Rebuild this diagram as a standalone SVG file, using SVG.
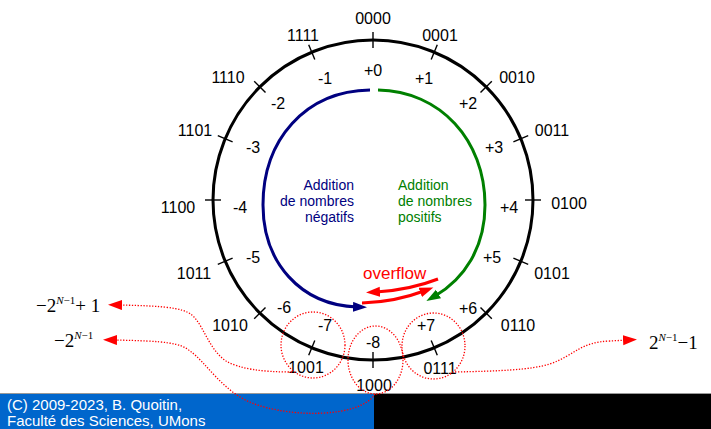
<svg xmlns="http://www.w3.org/2000/svg" width="711" height="429" viewBox="0 0 711 429">
<style>
.bin{font-family:"Liberation Sans",Arial,sans-serif;font-size:16px;fill:#000;text-anchor:middle}
.num{font-family:"Liberation Sans",Arial,sans-serif;font-size:16px;fill:#000;text-anchor:middle}
.tick{stroke:#000;stroke-width:1.4}
.cap{font-family:"Liberation Sans",Arial,sans-serif;font-size:14px}
.f{font-family:"Liberation Serif","Times New Roman",serif;font-size:19px;fill:#000}
.sup{font-size:11px}
.dot{fill:none;stroke:#ff0000;stroke-width:1.3;stroke-dasharray:1.3 1.6}
.foot{font-family:"Liberation Sans",Arial,sans-serif;font-size:15px;fill:#fff}
</style>
<defs>
<marker id="ab" markerUnits="userSpaceOnUse" markerWidth="16" markerHeight="12" refX="4" refY="5" orient="auto"><path d="M0,0 L14,5 L0,10 z" fill="#000080"/></marker>
<marker id="ag" markerUnits="userSpaceOnUse" markerWidth="16" markerHeight="12" refX="4" refY="5" orient="auto"><path d="M0,0 L14,5 L0,10 z" fill="#008000"/></marker>
<marker id="ar" markerUnits="userSpaceOnUse" markerWidth="16" markerHeight="12" refX="4" refY="5" orient="auto"><path d="M0,0 L14,5 L0,10 z" fill="#ff0000"/></marker>
</defs>
<rect width="711" height="429" fill="#fff"/>

<g id="footer">
<rect x="0" y="393" width="374" height="36" fill="#0066cc"/>
<rect x="374" y="393" width="337" height="36" fill="#000"/>
<line x1="0" y1="393.5" x2="711" y2="393.5" stroke="#999" stroke-width="1"/>
<text class="foot" x="7" y="410">(C) 2009-2023, B. Quoitin,</text>
<text class="foot" x="7" y="426">Faculté des Sciences, UMons</text>
</g>

<g id="ring">
<circle cx="373" cy="200" r="160" fill="none" stroke="#000" stroke-width="3"/>
<g class="tick">
<line x1="373" y1="48" x2="373" y2="32"/>
<line x1="431.2" y1="59.6" x2="437.3" y2="44.8"/>
<line x1="480.5" y1="92.5" x2="491.8" y2="81.2"/>
<line x1="513.4" y1="141.8" x2="528.2" y2="135.7"/>
<line x1="525" y1="200" x2="541" y2="200"/>
<line x1="513.4" y1="258.2" x2="528.2" y2="264.3"/>
<line x1="480.5" y1="307.5" x2="491.8" y2="318.8"/>
<line x1="431.2" y1="340.4" x2="437.3" y2="355.2"/>
<line x1="373" y1="352" x2="373" y2="368"/>
<line x1="314.8" y1="340.4" x2="308.7" y2="355.2"/>
<line x1="265.5" y1="307.5" x2="254.2" y2="318.8"/>
<line x1="232.6" y1="258.2" x2="217.8" y2="264.3"/>
<line x1="221" y1="200" x2="205" y2="200"/>
<line x1="232.6" y1="141.8" x2="217.8" y2="135.7"/>
<line x1="265.5" y1="92.5" x2="254.2" y2="81.2"/>
<line x1="314.8" y1="59.6" x2="308.7" y2="44.8"/>
</g>
</g>

<g id="v0"><text class="bin" x="373" y="24">0000</text><text class="num" x="373" y="76">+0</text></g>
<g id="v1"><text class="bin" x="440" y="41">0001</text><text class="num" x="424" y="84">+1</text></g>
<g id="v2"><text class="bin" x="517" y="83">0010</text><text class="num" x="468" y="109">+2</text></g>
<g id="v3"><text class="bin" x="552" y="136">0011</text><text class="num" x="494" y="153">+3</text></g>
<g id="v4"><text class="bin" x="569" y="209">0100</text><text class="num" x="509" y="213">+4</text></g>
<g id="v5"><text class="bin" x="552" y="279">0101</text><text class="num" x="492" y="263">+5</text></g>
<g id="v6"><text class="bin" x="518" y="331">0110</text><text class="num" x="468" y="314">+6</text></g>
<g id="v7"><text class="bin" x="440" y="374">0111</text><text class="num" x="426" y="331">+7</text></g>
<g id="vm8"><text class="bin" x="374" y="391">1000</text><text class="num" x="373" y="348">-8</text></g>
<g id="vm7"><text class="bin" x="306" y="373">1001</text><text class="num" x="325" y="331">-7</text></g>
<g id="vm6"><text class="bin" x="230" y="331">1010</text><text class="num" x="284" y="313">-6</text></g>
<g id="vm5"><text class="bin" x="194" y="279">1011</text><text class="num" x="253" y="263">-5</text></g>
<g id="vm4"><text class="bin" x="178" y="213">1100</text><text class="num" x="240" y="213">-4</text></g>
<g id="vm3"><text class="bin" x="195" y="136">1101</text><text class="num" x="253" y="153">-3</text></g>
<g id="vm2"><text class="bin" x="228" y="83">1110</text><text class="num" x="278" y="109">-2</text></g>
<g id="vm1"><text class="bin" x="303" y="41">1111</text><text class="num" x="325" y="84">-1</text></g>

<g id="neg-label" class="cap" fill="#000080" text-anchor="end">
<text x="354" y="190">Addition</text>
<text x="354" y="206">de nombres</text>
<text x="354" y="222">négatifs</text>
</g>
<g id="pos-label" class="cap" fill="#008000">
<text x="398" y="190">Addition</text>
<text x="398" y="206">de nombres</text>
<text x="398" y="222">positifs</text>
</g>
<g id="overflow-label"><text x="363" y="279" font-family="Liberation Sans,Arial,sans-serif" font-size="17" fill="#ff0000">overflow</text></g>

<g id="formula1"><text class="f" x="36" y="312">−2<tspan class="sup" dy="-8" font-style="italic">N</tspan><tspan class="sup">−1</tspan><tspan dy="8">+ 1</tspan></text></g>
<g id="formula2"><text class="f" x="54" y="347">−2<tspan class="sup" dy="-8" font-style="italic">N</tspan><tspan class="sup">−1</tspan></text></g>
<g id="formula3"><text class="f" x="649" y="349">2<tspan class="sup" dy="-8" font-style="italic">N</tspan><tspan class="sup">−1</tspan><tspan dy="8">−1</tspan></text></g>

<g id="connectors">
<path d="M370,90 C305,91 263,140 263,205 C263,262 300,305 357,307" fill="none" stroke="#000080" stroke-width="3" marker-end="url(#ab)"/>
<path d="M378,90 C440,91 485,140 485,205 C485,248 464,279 435,296" fill="none" stroke="#008000" stroke-width="3" marker-end="url(#ag)"/>
<path d="M438,279 Q410,290 376,292" fill="none" stroke="#ff0000" stroke-width="3" marker-end="url(#ar)"/>
<path d="M362,303 Q395,302 424,291" fill="none" stroke="#ff0000" stroke-width="3" marker-end="url(#ar)"/>
<ellipse class="dot" cx="313" cy="345" rx="32" ry="33"/>
<ellipse class="dot" cx="375.5" cy="360" rx="27.5" ry="34"/>
<ellipse class="dot" cx="433.5" cy="346" rx="31.5" ry="33"/>
<path class="dot" d="M292,372 C262,372 240,369 226,361 C210,350 205,330 195,318 C187,309 175,306 118,305" marker-end="url(#ar)"/>
<path class="dot" d="M375,394 C360,418 290,418 252,403 C222,391 206,362 190,351 C180,343 168,341 113,340" marker-end="url(#ar)"/>
<path class="dot" d="M455,372 C500,371 530,370 550,364 C575,355 580,342 610,341 L627,340" marker-end="url(#ar)"/>
</g>
</svg>
